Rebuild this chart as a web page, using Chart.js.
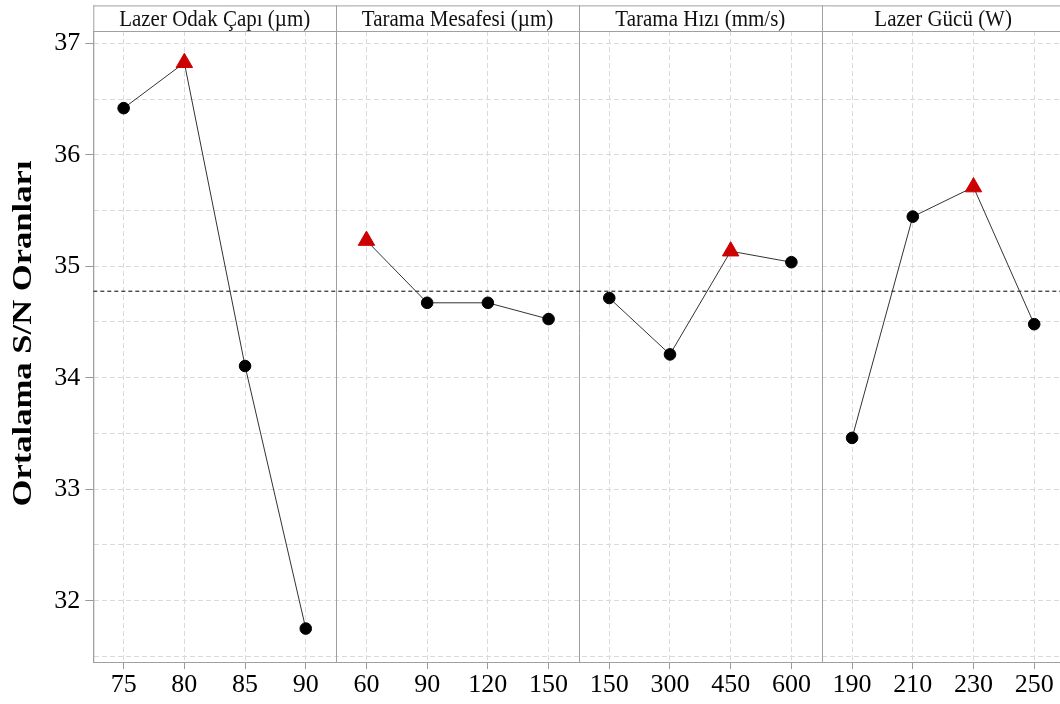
<!DOCTYPE html>
<html>
<head>
<meta charset="utf-8">
<script src="https://cdn.jsdelivr.net/npm/chart.js@4/dist/chart.umd.min.js"></script>
<style>
html,body{margin:0;padding:0;overflow:hidden;background:#fff;}
#c{display:block;}
</style>
</head>
<body>
<canvas id="c" width="1060" height="704" style="width:1060px;height:704px;"></canvas>
<script>
// ---- data ----
const factorTitles = ['Lazer Odak Çapı (µm)', 'Tarama Mesafesi (µm)', 'Tarama Hızı (mm/s)', 'Lazer Gücü (W)'];
const levelsSpot  = ['75', '80', '85', '90'];
const snSpot      = [36.418, 36.825, 34.105, 31.75];
const levelsHatch = ['60', '90', '120', '150'];
const snHatch     = [35.23, 34.672, 34.672, 34.526];
const levelsSpeed = ['150', '300', '450', '600'];
const snSpeed     = [34.715, 34.209, 35.135, 35.036];
const levelsPower = ['190', '210', '230', '250'];
const snPower     = [33.46, 35.445, 35.71, 34.48];
const meanSN = 34.776;
const yTickValues = [31.5, 32, 32.5, 33, 33.5, 34, 34.5, 35, 35.5, 36, 36.5, 37];
const yMin = 31.45, yMax = 37.11;

const factorLevels = [levelsSpot, levelsHatch, levelsSpeed, levelsPower];
const factorSN = [snSpot, snHatch, snSpeed, snPower];
const allLabels = [].concat(...factorLevels);
const nPer = 4;
// the reference image is cropped a few pixels before the last panel's right edge
const xMin = -0.5, xMax = allLabels.length - 0.5 - 0.075;

const SERIF = '"Liberation Serif", "Times New Roman", serif';

const datasets = factorSN.map((vals, f) => {
  const maxI = vals.indexOf(Math.max(...vals));
  return {
    data: vals.map((v, i) => ({x: f * nPer + i, y: v})),
    borderColor: '#333',
    borderWidth: 1,
    pointStyle: vals.map((v, i) => i === maxI ? 'triangle' : 'circle'),
    pointRadius: vals.map((v, i) => i === maxI ? 9.5 : 5.8),
    pointBackgroundColor: vals.map((v, i) => i === maxI ? '#cc0000' : '#000'),
    pointBorderColor: vals.map((v, i) => i === maxI ? '#cc0000' : '#000'),
    pointBorderWidth: 1,
    tension: 0,
    clip: false,
    order: 1
  };
});
datasets.push({
  data: [{x: xMin, y: meanSN}, {x: xMax, y: meanSN}],
  borderColor: '#000',
  borderWidth: 1,
  borderDash: [4, 3],
  pointRadius: 0,
  order: 2
});

const framePlugin = {
  id: 'frame',
  beforeDatasetsDraw(chart) {
    const {ctx, chartArea: a, scales} = chart;
    const xs = scales.x;
    const headerTop = 5.4;
    ctx.save();
    ctx.strokeStyle = '#a0a0a0';
    ctx.lineWidth = 1;
    ctx.beginPath();
    ctx.moveTo(a.left, headerTop + 0.5); ctx.lineTo(a.right, headerTop + 0.5);
    ctx.moveTo(a.left, a.top + 0.5); ctx.lineTo(a.right, a.top + 0.5);
    ctx.moveTo(a.left + 0.5, headerTop); ctx.lineTo(a.left + 0.5, a.bottom);
    for (let f = 1; f < factorTitles.length; f++) {
      const px = Math.round(xs.getPixelForValue(f * nPer - 0.5)) + 0.5;
      ctx.moveTo(px, headerTop); ctx.lineTo(px, a.bottom);
    }
    ctx.stroke();
    ctx.fillStyle = '#111';
    ctx.font = '21px ' + SERIF;
    ctx.textAlign = 'center';
    ctx.textBaseline = 'alphabetic';
    factorTitles.forEach((t, f) => {
      const cx = (xs.getPixelForValue(f * nPer - 0.5) + xs.getPixelForValue(f * nPer + nPer - 0.5)) / 2;
      ctx.save();
      ctx.translate(cx, 25.5);
      ctx.scale(1, 1.1);
      ctx.fillText(t, 0, 0);
      ctx.restore();
    });
    ctx.restore();
  },
  afterDraw(chart) {
    const ctx = chart.ctx;
    ctx.save();
    ctx.translate(30.5, 333.5);
    ctx.rotate(-Math.PI / 2);
    ctx.font = 'bold 27px ' + SERIF;
    const txt = 'Ortalama S/N Oranları';
    const w = ctx.measureText(txt).width;
    ctx.scale(346 / w, 1);
    ctx.fillStyle = '#000';
    ctx.textAlign = 'center';
    ctx.textBaseline = 'alphabetic';
    ctx.fillText(txt, 0, 0);
    ctx.restore();
  }
};

new Chart(document.getElementById('c'), {
  type: 'line',
  data: {datasets},
  options: {
    responsive: false,
    animation: false,
    devicePixelRatio: 1,
    layout: {autoPadding: false, padding: {top: 31, right: 0, left: 0, bottom: 0}},
    plugins: {legend: {display: false}, tooltip: {enabled: false}, title: {display: false}},
    scales: {
      x: {
        type: 'linear',
        min: xMin,
        max: xMax,
        afterBuildTicks: s => { s.ticks = allLabels.map((l, i) => ({value: i})); },
        afterFit: s => { s.height = 42; s.paddingLeft = 0; s.paddingRight = 0; },
        ticks: {
          autoSkip: false,
          maxRotation: 0,
          color: '#000',
          font: {family: SERIF, size: 26},
          padding: 1,
          callback: (v) => allLabels[v]
        },
        grid: {
          color: '#dadada',
          lineWidth: 1,
          drawTicks: true,
          tickLength: 7,
          tickColor: '#999',
          tickBorderDash: []
        },
        border: {display: true, color: '#a0a0a0', width: 1, dash: [5, 3]}
      },
      y: {
        type: 'linear',
        min: yMin,
        max: yMax,
        afterBuildTicks: s => { s.ticks = yTickValues.map(v => ({value: v})); },
        afterFit: s => { s.width = 93.3; s.paddingTop = 0; s.paddingBottom = 0; },
        ticks: {
          color: '#000',
          font: {family: SERIF, size: 26},
          padding: 5,
          callback: v => Number.isInteger(v) ? String(v) : ''
        },
        grid: {
          color: '#dadada',
          lineWidth: 1,
          drawTicks: true,
          tickLength: 8,
          tickColor: c => (c.tick && Number.isInteger(c.tick.value)) ? '#999' : 'rgba(0,0,0,0)',
          tickBorderDash: []
        },
        border: {display: true, color: '#a0a0a0', width: 1, dash: [5, 3]}
      }
    }
  },
  plugins: [framePlugin]
});
</script>
</body>
</html>
